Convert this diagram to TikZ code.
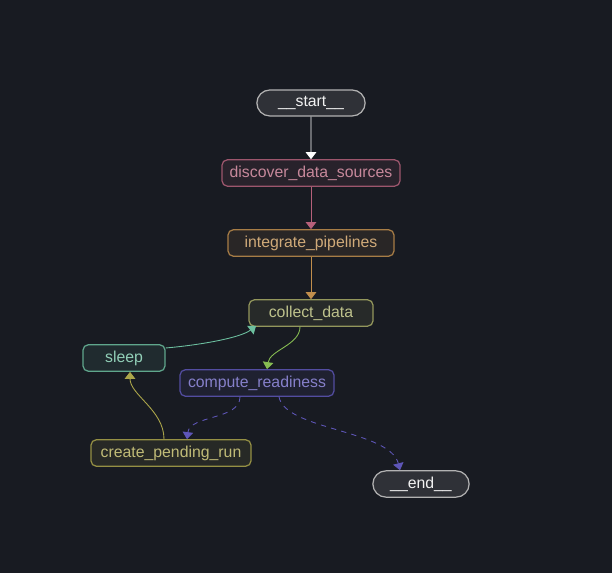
\documentclass[tikz,border=0pt]{standalone}
\usepackage{fontspec}
\setmainfont{Liberation Sans}
\usetikzlibrary{arrows.meta,shapes.misc}
\definecolor{bg}{HTML}{181B22}
\begin{document}
\begin{tikzpicture}[x=0.02cm,y=-0.02cm]
	\tikzset{etape/.style={draw=#1!85!bg, fill=#1!10!bg, text=#1!75!white, rounded corners=3pt, minimum height=0.52cm, line width=0.7pt, font=\small},
		borne/.style={draw=gray!60, fill=gray!22!bg, text=white!90!gray, rounded rectangle, minimum height=0.52cm, line width=0.7pt, font=\small},
		fleche/.style={-{Triangle[length=4pt,width=6pt]}, draw=#1, line width=0.5pt}};
	\fill[bg] (0,0) rectangle (612,573);
	\useasboundingbox (0,0) rectangle (612,573);

	\definecolor{rose}{HTML}{B5607A}
	\definecolor{ocre}{HTML}{C08E4C}
	\definecolor{olive}{HTML}{A9AD66}
	\definecolor{menthe}{HTML}{6CBF9F}
	\definecolor{indigo}{HTML}{5E56B8}
	\definecolor{jaune}{HTML}{ABA54A}

	\node[borne, minimum width=2.4cm] (start) at (311,103) {\_\_start\_\_};
	\node[etape=rose, minimum width=3.56cm] (discover) at (311,173) {discover\_data\_sources};
	\node[etape=ocre, minimum width=3.32cm] (integrate) at (311,243) {integrate\_pipelines};
	\node[etape=olive, minimum width=2.48cm] (collect) at (311,313) {collect\_data};
	\node[etape=menthe, minimum width=1.64cm] (sleep) at (124,358) {sleep};
	\node[etape=indigo, minimum width=3.08cm] (compute) at (257,383) {compute\_readiness};
	\node[etape=jaune, minimum width=3.2cm] (create) at (171,453) {create\_pending\_run};
	\node[borne, minimum width=2.16cm] (end) at (421,484) {\_\_end\_\_};

	\draw[fleche=white] (start) -- (discover);
	\draw[fleche=rose] (discover) -- (integrate);
	\draw[fleche=ocre] (integrate) -- (collect);
	\draw[fleche=olive!80!green] (collect.south) ++(-11,0) coordinate (c1) (c1) .. controls (300,345) and (270,350) .. (compute.north -| 267,0) ;
	\draw[fleche=menthe] (sleep.east) ++(0,-10) coordinate (s1) (s1) .. controls (200,345) and (240,338) .. (256,326);
	\draw[fleche=jaune] (create.north) ++(-7,0) coordinate (p1) (p1) .. controls (164,410) and (130,395) .. (sleep.south -| 130,0);
	\draw[fleche=indigo, dashed] (compute.south) ++(-17,0) coordinate (r1) (r1) .. controls (240,420) and (190,415) .. (create.north -| 187,0);
	\draw[fleche=indigo, dashed] (compute.south) ++(22,0) coordinate (r2) (r2) .. controls (285,430) and (390,430) .. (end.north -| 400,0);
\end{tikzpicture}
\end{document}
